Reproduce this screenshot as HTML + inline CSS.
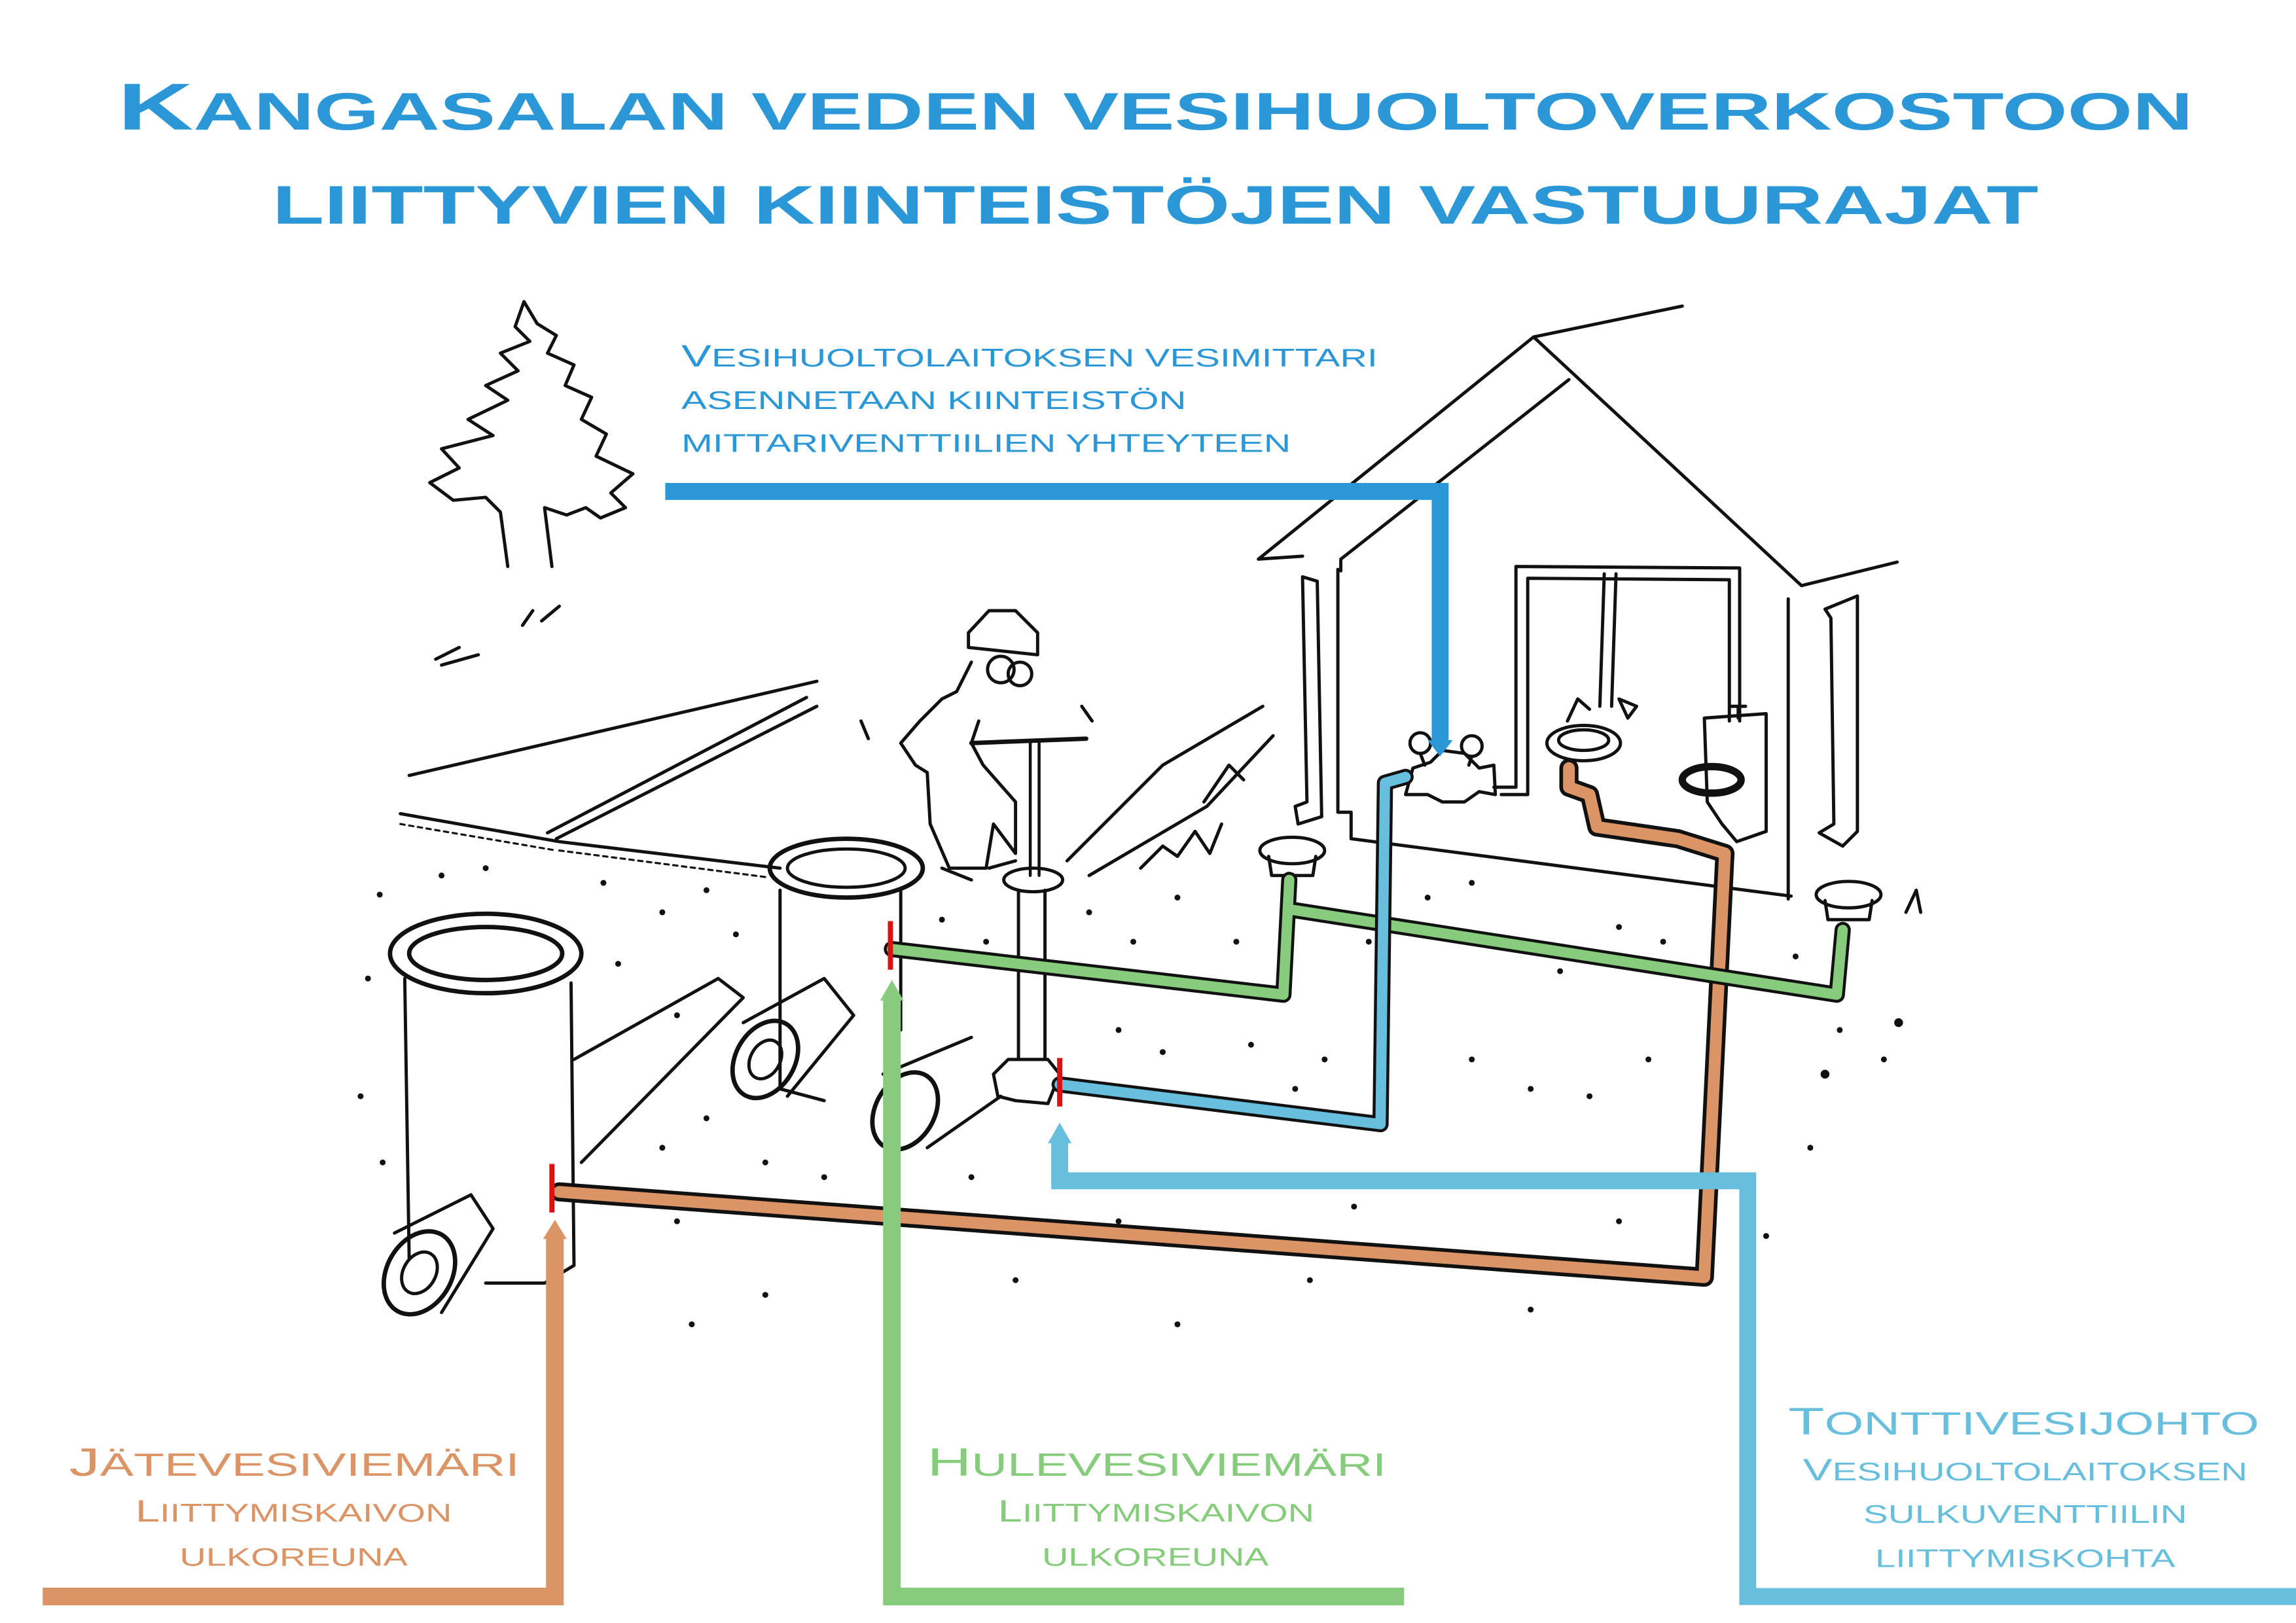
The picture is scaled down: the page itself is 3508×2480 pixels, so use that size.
<!DOCTYPE html>
<html><head><meta charset="utf-8">
<style>
html,body{margin:0;padding:0;background:#fff;}
svg{display:block;}
text{font-family:"Liberation Sans",sans-serif;}
</style></head>
<body>
<svg width="3508" height="2480" viewBox="0 0 1560 1103" preserveAspectRatio="none" xmlns="http://www.w3.org/2000/svg">
<rect width="1560" height="1103" fill="#fff"/>
<!-- Title -->
<g fill="#2b97d6" font-weight="bold">
<text x="80" y="88" font-size="36" textLength="1410" lengthAdjust="spacingAndGlyphs"><tspan font-size="45">K</tspan>ANGASALAN VEDEN VESIHUOLTOVERKOSTOON</text>
<text x="185" y="152" font-size="37" textLength="1200" lengthAdjust="spacingAndGlyphs">LIITTYVIEN KIINTEISTÖJEN VASTUURAJAT</text>
</g>
<!-- meter text -->
<g fill="#2b97d6">
<text x="463" y="249" font-size="17.5" textLength="473" lengthAdjust="spacingAndGlyphs"><tspan font-size="21">V</tspan>ESIHUOLTOLAITOKSEN VESIMITTARI</text>
<text x="463" y="278" font-size="17.5" textLength="343" lengthAdjust="spacingAndGlyphs">ASENNETAAN KIINTEISTÖN</text>
<text x="463" y="307" font-size="17.5" textLength="414" lengthAdjust="spacingAndGlyphs">MITTARIVENTTIILIEN YHTEYTEEN</text>
</g>
<!-- Sketch -->
<g fill="none" stroke="#111" stroke-width="2.2" stroke-linecap="round" stroke-linejoin="round">
<!-- tree -->
<path d="M356 205 L350 222 L360 232 L340 240 L352 252 L330 262 L345 272 L318 285 L335 296 L300 305 L312 318 L292 328 L308 340 L330 338 L340 348 L345 385 M356 205 L365 220 L378 228 L372 240 L390 248 L384 262 L402 270 L395 285 L412 295 L405 310 L430 322 L415 335 L425 345 L408 352 L398 345 L385 350 L370 345 L375 385"/>
<path d="M296 448 L312 440 M300 452 L325 445 M355 425 L362 415 M368 422 L380 412"/>
<!-- road -->
<path d="M278 527 L555 463 M272 553 L380 572 L530 590 M378 570 L555 480 M372 566 L548 474"/>
<path d="M272 560 L378 578 M380 578 L520 596" stroke-width="1.4" stroke-dasharray="3 3"/>
<!-- house -->
<path d="M855 380 L1042 229 L1143 208 M1042 229 L1224 398 L1289 382 M855 380 L885 378 M911 380 L1066 258 M911 380 L911 388"/>
<path d="M909 387 L909 552 L918 552 L918 570 L1217 609 M1215 407 L1215 611"/>
<path d="M885 392 L888 545 L880 548 L882 560 L898 555 L895 395 Z"/>
<path d="M1240 414 L1262 405 L1262 565 L1252 575 L1236 566 L1246 560 L1244 420 Z"/>
<path d="M1030 385 L1182 386 L1182 490 M1038 393 L1175 394 L1175 490 M1030 385 L1030 535 L1015 535 M1038 393 L1038 540 L1020 540 M1098 390 L1095 480 M1090 390 L1087 480"/>
<!-- meter -->
<path d="M955 540 L960 522 L972 518 L980 510 L995 512 L1005 522 L1015 520 L1016 540 L1005 538 L995 545 L980 545 L970 540 Z"/>
<circle cx="965" cy="505" r="7"/><circle cx="1000" cy="507" r="7"/>
<path d="M965 512 L968 520 M1000 514 L998 520"/>
<!-- sink -->
<ellipse cx="1076" cy="505" rx="25" ry="12"/><ellipse cx="1076" cy="503" rx="17" ry="7"/>
<path d="M1065 490 L1072 475 L1080 482 M1100 475 L1112 480 L1106 488 Z"/>
<!-- toilet -->
<path d="M1158 488 L1200 485 L1200 565 L1180 572 L1170 560 L1160 545 Z M1176 480 L1186 480 M1181 480 L1181 488"/>
<ellipse cx="1163" cy="530" rx="20" ry="9" stroke-width="5"/>
<!-- man -->
<path d="M658 430 L672 415 L690 415 L705 430 L705 445 L658 440 Z"/>
<circle cx="680" cy="455" r="9"/><circle cx="693" cy="458" r="8"/>
<path d="M660 450 L650 470 L640 475 L625 490 L612 505 L622 520 L630 525 L632 560 L645 590 L670 590 L675 560 L690 580 L690 545 L668 520 L660 505 L665 490 M640 590 L660 598 M672 590 L690 585 M585 490 L590 502 M735 480 L742 490"/>
<path d="M660 505 L738 502" stroke-width="3"/>
<path d="M700 505 L700 595 M706 505 L706 595" stroke-width="2"/>
<ellipse cx="702" cy="598" rx="20" ry="8"/>
<path d="M692 605 L692 720 M710 605 L710 720 M675 730 L685 720 L712 720 L720 730 L712 750 L690 748 L678 745 Z"/>
<!-- grass/hill -->
<path d="M725 585 L790 520 L858 480 M740 595 L820 548 L865 500 M775 590 L790 575 L800 582 L812 565 L822 580 L830 560 M818 545 L835 520 L845 530"/>
<!-- drains -->
<ellipse cx="878" cy="578" rx="22" ry="9"/><path d="M862 582 L864 595 L892 595 L894 582"/>
<ellipse cx="1256" cy="608" rx="22" ry="9"/><path d="M1240 612 L1242 625 L1270 625 L1272 612"/>
<path d="M1295 620 L1302 605 L1305 620"/>
<!-- middle manhole -->
<ellipse cx="575" cy="590" rx="52" ry="20" stroke-width="3"/><ellipse cx="575" cy="590" rx="40" ry="13"/>
<path d="M530 605 L530 740 L560 748 M612 605 L612 700"/>
<!-- left manhole -->
<ellipse cx="330" cy="648" rx="65" ry="27" stroke-width="3"/><ellipse cx="330" cy="648" rx="52" ry="18" stroke-width="3"/>
<path d="M275 665 L278 855 M388 668 L390 860 L370 872 L330 872"/>
<path d="M390 720 L488 665 L505 678 L395 790"/>
<!-- pipes out -->
<ellipse cx="520" cy="720" rx="20" ry="28" transform="rotate(30 520 720)" stroke-width="3"/><ellipse cx="520" cy="720" rx="10" ry="14" transform="rotate(30 520 720)"/>
<path d="M505 695 L560 665 L580 690 L535 745"/>
<ellipse cx="615" cy="755" rx="20" ry="28" transform="rotate(30 615 755)" stroke-width="3"/>
<path d="M600 730 L660 705 M630 780 L680 745"/>
<ellipse cx="285" cy="865" rx="22" ry="30" transform="rotate(30 285 865)" stroke-width="3"/><ellipse cx="285" cy="865" rx="11" ry="15" transform="rotate(30 285 865)"/>
<path d="M268 838 L320 812 L335 835 L300 892"/>
</g>
<!-- dots -->
<g fill="#111">
<circle cx="300" cy="595" r="2"/><circle cx="330" cy="590" r="2"/><circle cx="258" cy="608" r="2"/><circle cx="410" cy="600" r="2"/><circle cx="450" cy="620" r="2"/><circle cx="480" cy="605" r="2"/><circle cx="500" cy="635" r="2"/><circle cx="420" cy="655" r="2"/><circle cx="460" cy="690" r="2"/><circle cx="250" cy="665" r="2"/><circle cx="245" cy="745" r="2"/><circle cx="260" cy="790" r="2"/><circle cx="450" cy="780" r="2"/><circle cx="480" cy="760" r="2"/><circle cx="520" cy="790" r="2"/><circle cx="560" cy="800" r="2"/><circle cx="460" cy="830" r="2"/><circle cx="520" cy="880" r="2"/><circle cx="470" cy="900" r="2"/><circle cx="690" cy="870" r="2"/><circle cx="800" cy="900" r="2"/><circle cx="890" cy="870" r="2"/><circle cx="1040" cy="890" r="2"/><circle cx="640" cy="625" r="2"/><circle cx="670" cy="640" r="2"/><circle cx="740" cy="620" r="2"/><circle cx="770" cy="640" r="2"/><circle cx="800" cy="610" r="2"/><circle cx="840" cy="640" r="2"/><circle cx="760" cy="700" r="2"/><circle cx="790" cy="715" r="2"/><circle cx="850" cy="710" r="2"/><circle cx="880" cy="740" r="2"/><circle cx="900" cy="720" r="2"/><circle cx="930" cy="640" r="2"/><circle cx="970" cy="610" r="2"/><circle cx="1000" cy="600" r="2"/><circle cx="1030" cy="640" r="2"/><circle cx="1060" cy="660" r="2"/><circle cx="1100" cy="630" r="2"/><circle cx="1130" cy="640" r="2"/><circle cx="1000" cy="720" r="2"/><circle cx="1040" cy="740" r="2"/><circle cx="1080" cy="745" r="2"/><circle cx="1120" cy="720" r="2"/><circle cx="1160" cy="750" r="2"/><circle cx="1250" cy="700" r="2"/><circle cx="1290" cy="695" r="3"/><circle cx="1240" cy="730" r="3"/><circle cx="1230" cy="780" r="2"/><circle cx="1280" cy="720" r="2"/><circle cx="1220" cy="650" r="2"/><circle cx="960" cy="800" r="2"/><circle cx="1100" cy="830" r="2"/><circle cx="1200" cy="840" r="2"/><circle cx="920" cy="820" r="2"/><circle cx="660" cy="800" r="2"/><circle cx="760" cy="830" r="2"/>
</g>
<!-- colored pipes in drawing -->
<g fill="none" stroke-linecap="round" stroke-linejoin="round">
<path d="M380 810 L1158 868 L1172 580 L1140 570 L1085 562 L1080 540 L1066 535 L1066 522" stroke="#111" stroke-width="13"/>
<path d="M380 810 L1158 868 L1172 580 L1140 570 L1085 562 L1080 540 L1066 535 L1066 522" stroke="#db9466" stroke-width="8"/>
<path d="M606 645 L872 676 L876 598 M876 618 L1248 676 L1252 632" stroke="#111" stroke-width="11"/>
<path d="M606 645 L872 676 L876 598 M876 618 L1248 676 L1252 632" stroke="#87cc7d" stroke-width="7"/>
<path d="M720 737 L938 764 L941 532 L955 528" stroke="#111" stroke-width="11"/>
<path d="M720 737 L938 764 L941 532 L955 528" stroke="#67bedd" stroke-width="7"/>
</g>
<!-- red markers -->
<g stroke="#d11" stroke-width="3.5">
<line x1="375" y1="791" x2="375" y2="824"/>
<line x1="605" y1="626" x2="605" y2="659"/>
<line x1="720" y1="719" x2="720" y2="752"/>
</g>
<!-- dark blue connector -->
<path d="M452 334 L978.5 334 L978.5 505" fill="none" stroke="#2b97d6" stroke-width="11.5"/>
<polygon points="970,503 987,503 978.5,514" fill="#2b97d6"/>
<!-- orange connector -->
<path d="M29 1085 L377 1085 L377 840" fill="none" stroke="#db9466" stroke-width="12"/>
<polygon points="369,842 385,842 377,829" fill="#db9466"/>
<!-- green connector -->
<path d="M954 1085 L606 1085 L606 678" fill="none" stroke="#87cc7d" stroke-width="12"/>
<polygon points="598,680 614,680 606,666" fill="#87cc7d"/>
<!-- light blue connector -->
<path d="M720 775 L720 802.5 L1187.5 802.5 L1187.5 1085 L1560 1085" fill="none" stroke="#67bedd" stroke-width="11.5"/>
<polygon points="712,777 728,777 720,763" fill="#67bedd"/>
<!-- bottom labels -->
<g fill="#db9466">
<text x="47" y="1003" font-size="22" textLength="306" lengthAdjust="spacingAndGlyphs"><tspan font-size="27">J</tspan>ÄTEVESIVIEMÄRI</text>
<text x="92" y="1034" font-size="17.5" textLength="215" lengthAdjust="spacingAndGlyphs"><tspan font-size="21">L</tspan>IITTYMISKAIVON</text>
<text x="122" y="1064" font-size="17.5" textLength="155" lengthAdjust="spacingAndGlyphs">ULKOREUNA</text>
</g>
<g fill="#87cc7d">
<text x="630" y="1003" font-size="22" textLength="312" lengthAdjust="spacingAndGlyphs"><tspan font-size="27">H</tspan>ULEVESIVIEMÄRI</text>
<text x="678" y="1034" font-size="17.5" textLength="215" lengthAdjust="spacingAndGlyphs"><tspan font-size="21">L</tspan>IITTYMISKAIVON</text>
<text x="708" y="1064" font-size="17.5" textLength="154" lengthAdjust="spacingAndGlyphs">ULKOREUNA</text>
</g>
<g fill="#67bedd">
<text x="1215" y="975" font-size="22" textLength="320" lengthAdjust="spacingAndGlyphs"><tspan font-size="26">T</tspan>ONTTIVESIJOHTO</text>
<text x="1225" y="1006" font-size="17.5" textLength="302" lengthAdjust="spacingAndGlyphs"><tspan font-size="21">V</tspan>ESIHUOLTOLAITOKSEN</text>
<text x="1266" y="1035" font-size="17.5" textLength="220" lengthAdjust="spacingAndGlyphs">SULKUVENTTIILIN</text>
<text x="1274" y="1065" font-size="17.5" textLength="204" lengthAdjust="spacingAndGlyphs">LIITTYMISKOHTA</text>
</g>
</svg>
</body></html>
